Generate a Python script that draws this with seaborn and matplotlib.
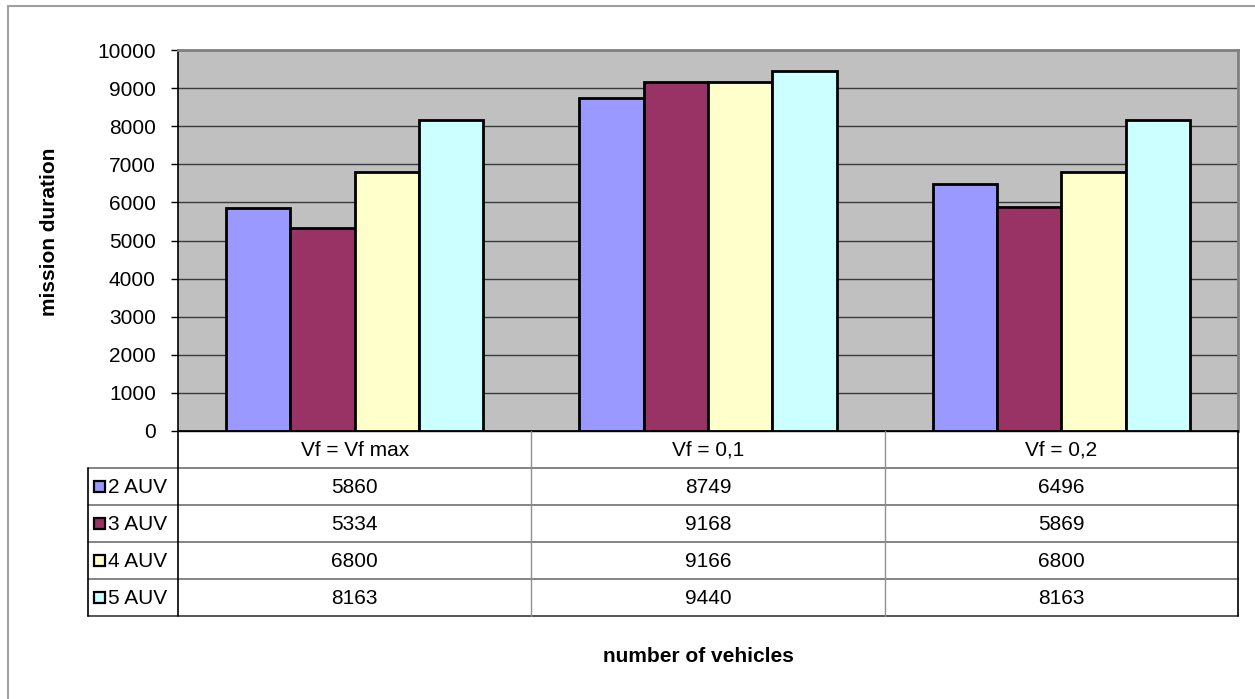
import numpy as np
import pandas as pd
import matplotlib
matplotlib.use("Agg")
import matplotlib.pyplot as plt
import seaborn as sns
from matplotlib.patches import Rectangle

categories = ["Vf = Vf max", "Vf = 0,1", "Vf = 0,2"]
series = ["2 AUV", "3 AUV", "4 AUV", "5 AUV"]
auv2 = [5860, 8749, 6496]
auv3 = [5334, 9168, 5869]
auv4 = [6800, 9166, 6800]
auv5 = [8163, 9440, 8163]
yticks = list(range(0, 10001, 1000))
colors = ["#9999FF", "#993366", "#FFFFCC", "#CCFFFF"]

values = [auv2, auv3, auv4, auv5]
rows = []
for s, vals in zip(series, values):
    for c, v in zip(categories, vals):
        rows.append({"cond": c, "series": s, "val": v})
df = pd.DataFrame(rows)

sns.set_theme(style="white")
plt.rcParams["font.family"] = ["Liberation Sans", "DejaVu Sans"]

FS = 15
W, H = 1255, 699
fig = plt.figure(figsize=(W / 100, H / 100), dpi=100)

# pixel layout
L, R, T, B = 178, 1238, 50, 431
ax = fig.add_axes([L / W, 1 - B / H, (R - L) / W, (B - T) / H])
ax.set_facecolor("#C0C0C0")
sns.barplot(data=df, x="cond", y="val", hue="series", order=categories,
            hue_order=series, palette=colors, edgecolor="black", linewidth=2,
            width=0.728, saturation=1, errorbar=None, ax=ax, legend=False, zorder=3)
ax.set_xlim(-0.5, len(categories) - 0.5)
ax.set_ylim(0, 10000)
ax.set_yticks(yticks)
ax.set_yticklabels([str(t) for t in yticks], fontsize=FS, color="black")
ax.yaxis.grid(True, color="#3a3a3a", linewidth=1, zorder=0)
ax.set_axisbelow(True)
ax.tick_params(axis="y", direction="out", length=5, width=1, color="black", left=True, pad=11)
ax.tick_params(axis="x", bottom=False, labelbottom=False)
ax.set_xlabel("")
ax.set_ylabel("")
for side in ["left", "bottom"]:
    ax.spines[side].set_color("black")
    ax.spines[side].set_linewidth(1.2)
for side in ["top", "right"]:
    ax.spines[side].set_color("#808080")
    ax.spines[side].set_linewidth(2)

# overlay axes in pixel coordinates for frame and data table
ov = fig.add_axes([0, 0, 1, 1], facecolor="none")
ov.set_xlim(0, W)
ov.set_ylim(H, 0)
ov.axis("off")

# outer chart frame
ov.plot([8, 8], [H, 6], color="#a0a0a0", lw=1.5)
ov.plot([8, W], [6, 6], color="#a0a0a0", lw=1.5)

# data table
col_w = (R - L) / len(categories)
cols = [L + i * col_w for i in range(len(categories) + 1)]
row_h = 37
hdr_top = B
hdr_bot = B + row_h
leg_left = 88
tbl_bot = hdr_bot + row_h * len(series)

ov.plot([L, R], [hdr_top, hdr_top], color="black", lw=1)
for i in range(len(series) + 1):
    y = hdr_bot + i * row_h
    ov.plot([leg_left, R], [y, y], color="#707070", lw=1.2)
ov.plot([leg_left, R], [tbl_bot, tbl_bot], color="#505050", lw=1.2)
ov.plot([L, L], [hdr_top, tbl_bot], color="black", lw=1.2)
for x in cols[1:-1]:
    ov.plot([x, x], [hdr_top, tbl_bot], color="#909090", lw=1)
ov.plot([R, R], [hdr_top, tbl_bot], color="black", lw=1.2)
ov.plot([leg_left, leg_left], [hdr_bot, tbl_bot], color="black", lw=1.2)

for i, c in enumerate(categories):
    ov.text((cols[i] + cols[i + 1]) / 2, (hdr_top + hdr_bot) / 2 + 1, c,
            ha="center", va="center", fontsize=FS, color="black")

for r, (s, vals, col) in enumerate(zip(series, values, colors)):
    yc = hdr_bot + r * row_h + row_h / 2
    ov.add_patch(Rectangle((94, yc - 6), 11, 11, facecolor=col, edgecolor="black", lw=1.6))
    ov.text(108, yc + 1, s, ha="left", va="center", fontsize=FS, color="black")
    for i, v in enumerate(vals):
        ov.text((cols[i] + cols[i + 1]) / 2, yc + 1, str(v),
                ha="center", va="center", fontsize=FS, color="black")

ov.text(50, 232, "mission duration", rotation=90, ha="center", va="center",
        fontsize=FS, fontweight="bold", color="black")
ov.text(698, 656, "number of vehicles", ha="center", va="center",
        fontsize=FS, fontweight="bold", color="black")

fig.savefig("out.png", dpi=100, facecolor="white")
